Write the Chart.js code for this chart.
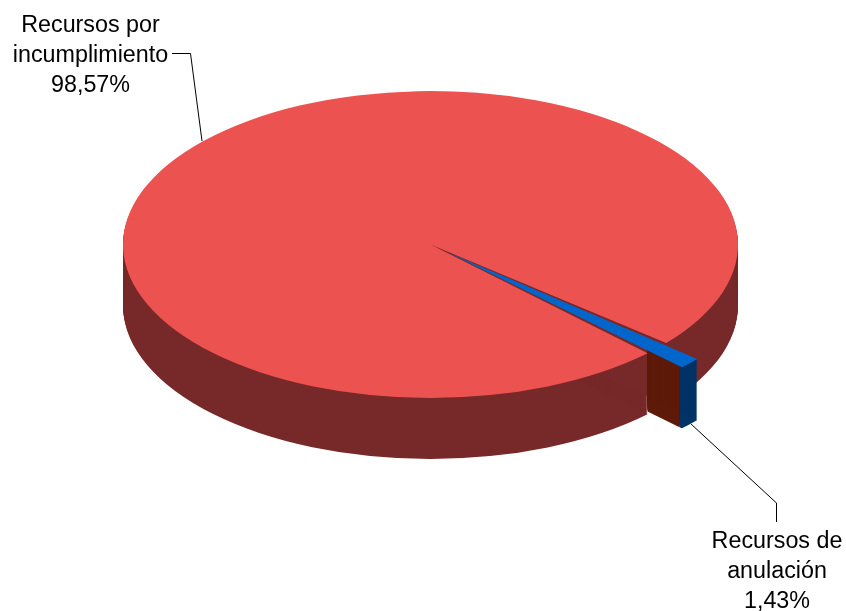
<!DOCTYPE html>
<html>
<head>
<meta charset="utf-8">
<title>Recursos</title>
<script src="https://cdn.jsdelivr.net/npm/chart.js@4/dist/chart.umd.min.js"></script>
<style>
    html, body { margin: 0; padding: 0; background: #fff; }
    canvas { display: block; }
</style>
</head>
<body>
<canvas id="pieChart" width="846" height="611"></canvas>
<script>
// Chart data
const CATEGORIES = ['Recursos por incumplimiento', 'Recursos de anulación'];
const VALUES = [98.57, 1.43];
const VALUE_LABELS = ['98,57%', '1,43%'];
const LABEL_LINES = [['Recursos por', 'incumplimiento'], ['Recursos de', 'anulación']];

// Colours: top face, outer wall
const TOP_COLORS = ['#EC5350', '#0066CC'];
const WALL_COLORS = ['#772828', '#003366'];
const CUT_FACE_COLOR = '#5E1A08';

// Look of the tilted pie on the page
const CENTER_X = 430.5;
const CENTER_Y = 244.5;
const RADIUS_X = 307.5;
const RADIUS_Y = 153.5;
const DEPTH = 61;

// Draw an arc in another colour without touching its real options
function drawArcAs(ctx, arc, color) {
    const saved = arc.options;
    arc.options = Object.assign({}, saved, { backgroundColor: color });
    arc.draw(ctx);
    arc.options = saved;
}

// Stack copies of an arc downwards to make the wall of the pie.
// Goes top to bottom so each soft edge gets painted over by the next copy (no banding)
function drawWall(chart, arc, color, scaleY, clipLeft, clipRight) {
    const ctx = chart.ctx;
    ctx.save();
    ctx.setTransform(1, 0, 0, 1, 0, 0);
    ctx.beginPath();
    ctx.rect(clipLeft, 0, clipRight - clipLeft, chart.height);
    ctx.clip();
    ctx.translate(CENTER_X, CENTER_Y);
    ctx.scale(RADIUS_X / arc.outerRadius, scaleY);
    ctx.translate(-arc.x, -arc.y);
    for (let d = 1; d <= DEPTH; d += 1) {
        ctx.save();
        ctx.translate(0, d / scaleY);
        drawArcAs(ctx, arc, color);
        ctx.restore();
    }
    ctx.restore();
}

const tiltedPie = {
    id: 'tiltedPie',
    beforeDatasetsDraw(chart) {
        const ctx = chart.ctx;
        const [red, blue] = chart.getDatasetMeta(0).data;
        const scaleX = RADIUS_X / red.outerRadius;
        const scaleY = RADIUS_Y / red.outerRadius;

        drawWall(chart, red, WALL_COLORS[0], scaleY, 0, chart.width);

        // Blue slice: the cut face runs from the pie rim to the front corner, the rest is outer wall
        const off = blue.options.offset / 4;
        const mid = (blue.startAngle + blue.endAngle) / 2;
        const fix = 1 - Math.sin(Math.min(Math.PI, blue.circumference));
        const tipRadius = blue.outerRadius + off * fix;
        const rimX = CENTER_X + RADIUS_X * Math.cos(blue.endAngle);
        const cornerX = CENTER_X + scaleX * (off * Math.cos(mid) + tipRadius * Math.cos(blue.endAngle));
        drawWall(chart, blue, CUT_FACE_COLOR, scaleY, rimX, cornerX);
        drawWall(chart, blue, WALL_COLORS[1], scaleY, cornerX, chart.width);

        // The library then draws the top faces inside this transform
        ctx.save();
        ctx.translate(CENTER_X, CENTER_Y);
        ctx.scale(scaleX, scaleY);
        ctx.translate(-red.x, -red.y);
    },
    afterDatasetsDraw(chart) {
        chart.ctx.restore();
    },
    afterDraw(chart) {
        const ctx = chart.ctx;
        ctx.save();
        ctx.strokeStyle = '#000';
        ctx.lineWidth = 1;
        ctx.beginPath();
        ctx.moveTo(172, 53.5);
        ctx.lineTo(190.5, 53.5);
        ctx.lineTo(202, 141);
        ctx.moveTo(691, 424);
        ctx.lineTo(776.5, 503);
        ctx.lineTo(776.5, 522);
        ctx.stroke();

        ctx.fillStyle = '#000';
        ctx.font = '23.3px "Liberation Sans"';
        ctx.textAlign = 'center';
        ctx.textBaseline = 'alphabetic';
        ctx.fillText(LABEL_LINES[0][0], 90.5, 32);
        ctx.fillText(LABEL_LINES[0][1], 90.5, 62);
        ctx.fillText(VALUE_LABELS[0], 90.5, 92);
        ctx.fillText(LABEL_LINES[1][0], 777, 548);
        ctx.fillText(LABEL_LINES[1][1], 777, 578);
        ctx.fillText(VALUE_LABELS[1], 777, 608);
        ctx.restore();
    }
};

new Chart(document.getElementById('pieChart'), {
    type: 'pie',
    data: {
        labels: CATEGORIES,
        datasets: [{
            data: VALUES,
            backgroundColor: TOP_COLORS,
            borderWidth: 0,
            offset: [0, 80],
            clip: false
        }]
    },
    options: {
        responsive: false,
        animation: false,
        rotation: 135.1,
        layout: { padding: 0 },
        plugins: {
            legend: { display: false },
            tooltip: { enabled: false }
        }
    },
    plugins: [tiltedPie]
});
</script>
</body>
</html>
